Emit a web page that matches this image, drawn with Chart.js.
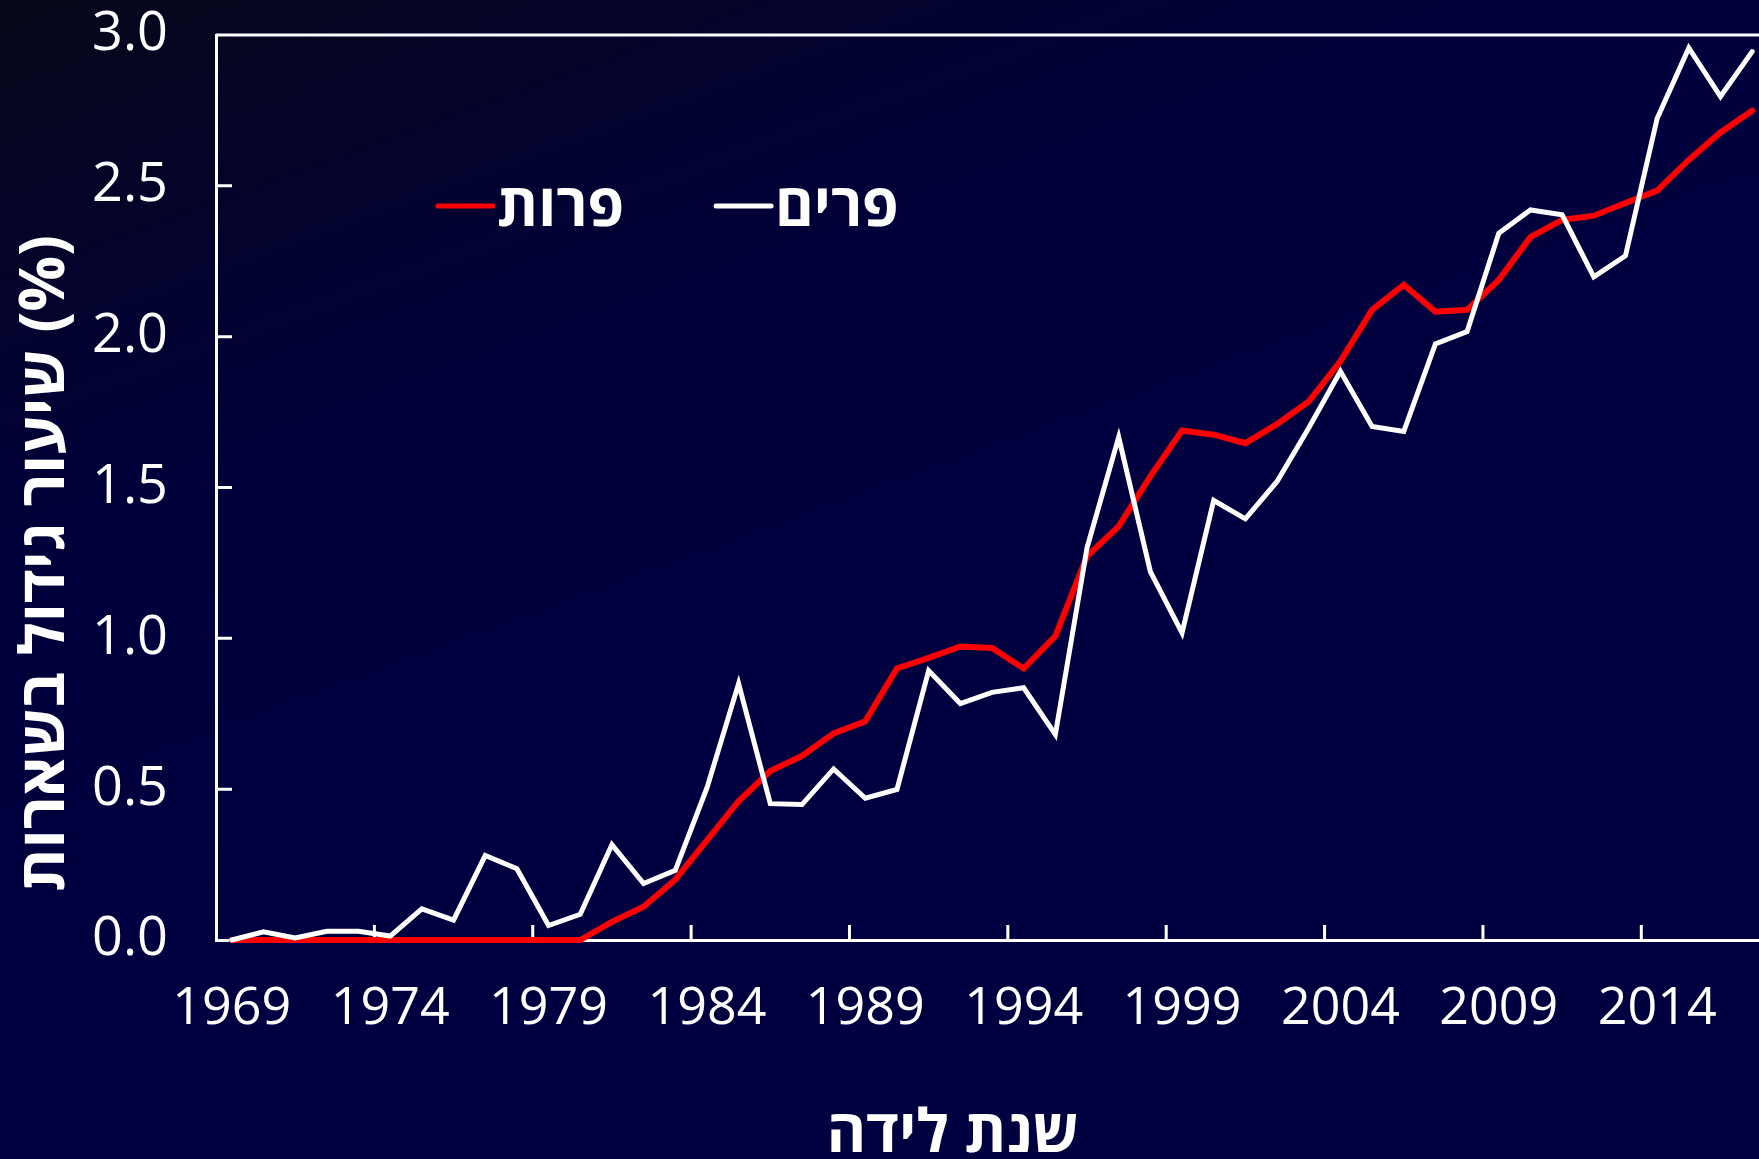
<!DOCTYPE html>
<html>
<head>
<meta charset="utf-8">
<script src="https://cdn.jsdelivr.net/npm/chart.js@4.4.1/dist/chart.umd.min.js"></script>
<style>
    html, body { margin: 0; padding: 0; width: 1759px; height: 1159px; overflow: hidden; }
    body { background: linear-gradient(160deg, #07071a 0%, #00003a 30%, #000040 55%); }
    #wrap { position: absolute; left: 0; top: 0; width: 1768px; height: 1159px; }
</style>
</head>
<body>
<div id="wrap"><canvas id="chart" width="1768" height="1159"></canvas></div>
<script>
const years = [1969, 1970, 1971, 1972, 1973, 1974, 1975, 1976, 1977, 1978,
    1979, 1980, 1981, 1982, 1983, 1984, 1985, 1986, 1987, 1988,
    1989, 1990, 1991, 1992, 1993, 1994, 1995, 1996, 1997, 1998,
    1999, 2000, 2001, 2002, 2003, 2004, 2005, 2006, 2007, 2008,
    2009, 2010, 2011, 2012, 2013, 2014, 2015, 2016, 2017];

const shownYears = [1969, 1974, 1979, 1984, 1989, 1994, 1999, 2004, 2009, 2014];

// פרות (red)
const cows = [0, 0, 0, 0, 0, 0, 0, 0, 0, 0,
    0, 0, 0.06, 0.11, 0.20, 0.33, 0.46, 0.56, 0.61, 0.685,
    0.725, 0.90, 0.935, 0.973, 0.968, 0.90, 1.007, 1.272, 1.371, 1.537,
    1.689, 1.675, 1.647, 1.71, 1.785, 1.918, 2.089, 2.172, 2.083, 2.089,
    2.188, 2.33, 2.387, 2.401, 2.443, 2.484, 2.586, 2.677, 2.749];

// פרים (white)
const bulls = [0, 0.027, 0.007, 0.029, 0.029, 0.013, 0.103, 0.066, 0.28, 0.236,
    0.048, 0.085, 0.316, 0.187, 0.231, 0.504, 0.85, 0.452, 0.449, 0.567,
    0.47, 0.499, 0.893, 0.784, 0.821, 0.836, 0.681, 1.30, 1.667, 1.221,
    1.018, 1.457, 1.396, 1.52, 1.697, 1.885, 1.702, 1.686, 1.976, 2.017,
    2.343, 2.42, 2.404, 2.198, 2.268, 2.723, 2.957, 2.796, 2.945];

const yTicks = [0, 0.5, 1.0, 1.5, 2.0, 2.5, 3.0];

const FONT = '"Open Sans", "DejaVu Sans", sans-serif';

// frame top line, inward tick marks and the legend inside the plot
const decorations = {
    id: "decorations",
    beforeDatasetsDraw(chart) {
        const { ctx, chartArea, scales: { x, y } } = chart;
        ctx.save();
        ctx.strokeStyle = "#ffffff";
        ctx.lineWidth = 3;
        ctx.beginPath();
        ctx.moveTo(chartArea.left, chartArea.top);
        ctx.lineTo(chartArea.right, chartArea.top);
        yTicks.forEach(v => {
            if (v > 0 && v < 3) {
                const py = y.getPixelForValue(v);
                ctx.moveTo(chartArea.left, py);
                ctx.lineTo(chartArea.left + 16, py);
            }
        });
        shownYears.forEach(yr => {
            const i = years.indexOf(yr);
            if (i > 0) {
                const px = x.getPixelForValue(i - 0.5);
                ctx.moveTo(px, chartArea.bottom);
                ctx.lineTo(px, chartArea.bottom - 15);
            }
        });
        ctx.stroke();
        ctx.restore();
    },
    afterDatasetsDraw(chart) {
        const ctx = chart.ctx;
        ctx.save();
        ctx.font = "bold 59px " + FONT;
        ctx.textAlign = "left";
        ctx.textBaseline = "middle";
        ctx.lineCap = "round";
        ctx.lineWidth = 5;
        let lx = 438;
        const ly = 206;
        chart.data.datasets.forEach(ds => {
            ctx.strokeStyle = ds.borderColor;
            ctx.beginPath();
            ctx.moveTo(lx, ly);
            ctx.lineTo(lx + 55, ly);
            ctx.stroke();
            ctx.fillStyle = "#ffffff";
            ctx.fillText(ds.label, lx + 59, ly + 3);
            lx += 59 + ctx.measureText(ds.label).width + 92;
        });
        ctx.restore();
    }
};

const ctx = document.getElementById("chart").getContext("2d");

const chart = new Chart(ctx, {
    type: "line",
    data: {
        labels: years,
        datasets: [{
            label: "פרות",
            data: cows,
            borderColor: "#ff0000",
            borderWidth: 6,
            order: 2
        }, {
            label: "פרים",
            data: bulls,
            borderColor: "#ffffff",
            borderWidth: 5,
            order: 1
        }]
    },
    options: {
        responsive: false,
        animation: false,
        layout: { padding: { top: 35, right: 0, bottom: 0, left: 0 } },
        elements: {
            point: { radius: 0 },
            line: { tension: 0, borderJoinStyle: "miter", borderCapStyle: "round" }
        },
        datasets: { line: { clip: false } },
        plugins: {
            legend: { display: false },
            tooltip: { enabled: false }
        },
        scales: {
            x: {
                offset: true,
                grid: { display: false, drawTicks: false },
                border: { color: "#ffffff", width: 3 },
                ticks: {
                    autoSkip: false,
                    maxRotation: 0,
                    color: "#ffffff",
                    padding: 38,
                    font: { family: FONT, size: 52 },
                    callback: (v, i) => shownYears.includes(years[i]) ? String(years[i]) : ""
                },
                title: {
                    display: true,
                    text: "שנת לידה     ",
                    color: "#ffffff",
                    font: { family: FONT, size: 60, weight: "bold", lineHeight: 1 },
                    padding: { top: 0, bottom: -6 }
                },
                afterFit: s => {
                    s.height = 219;
                    s.paddingLeft = 0;
                    s.paddingRight = 0;
                }
            },
            y: {
                min: 0,
                max: 3,
                grid: { display: false, drawTicks: false },
                border: { color: "#ffffff", width: 3 },
                ticks: {
                    stepSize: 0.5,
                    color: "#ffffff",
                    padding: 48,
                    font: { family: FONT, size: 54 },
                    callback: v => v.toFixed(1)
                },
                title: {
                    display: true,
                    align: "start",
                    text: "   שיעור גידול בשארות (%)",
                    color: "#ffffff",
                    font: { family: FONT, size: 62, weight: "bold", lineHeight: 1.2 },
                    padding: { top: 9, bottom: 0 }
                },
                afterFit: s => {
                    s.width = 216;
                    s.paddingTop = 0;
                    s.paddingBottom = 0;
                }
            }
        }
    },
    plugins: [decorations]
});
</script>
</body>
</html>
